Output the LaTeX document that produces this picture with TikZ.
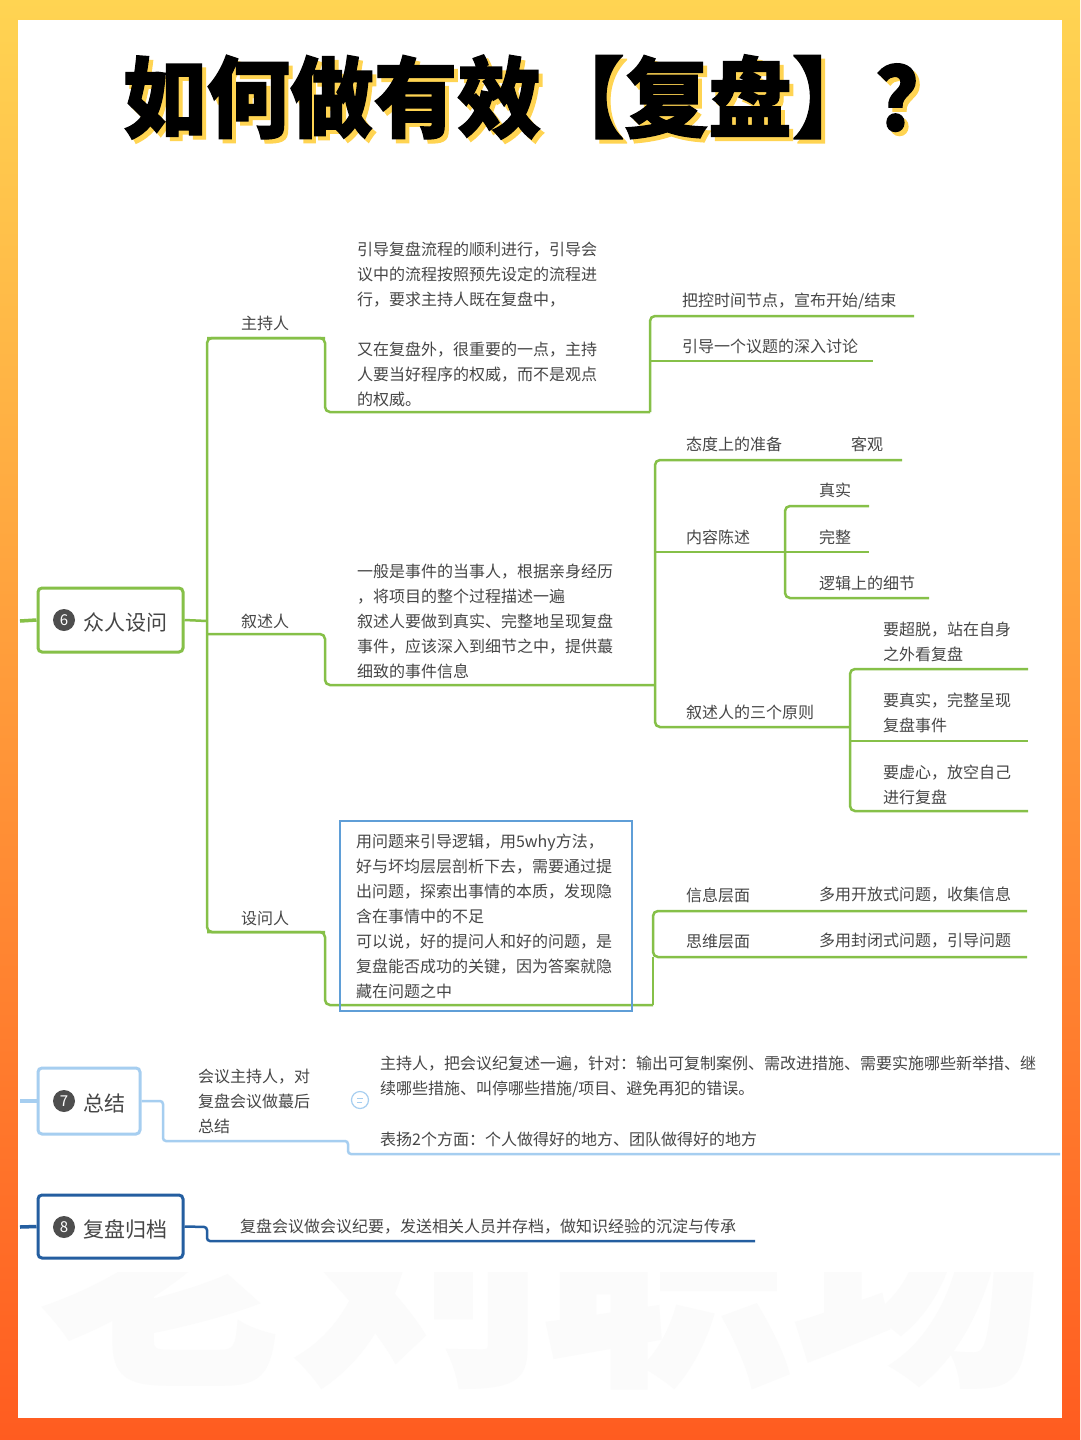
\documentclass[tikz,border=0pt]{standalone}
\usepackage{fontspec}
\usepackage{tikz}
\usetikzlibrary{positioning}
\newfontfamily\cjk{Noto Sans CJK SC}
\newfontfamily\cjkheavy{Noto Sans CJK SC}[FakeBold=1.5]
\definecolor{leaf}{RGB}{134,192,72}
\definecolor{ink}{RGB}{70,70,70}
\definecolor{sky}{RGB}{166,206,240}
\definecolor{sea}{RGB}{36,94,160}
\definecolor{frame}{RGB}{95,158,215}
\definecolor{sunY}{RGB}{255,212,82}
\definecolor{sunO}{RGB}{255,92,32}
\definecolor{dot}{RGB}{78,78,78}

\begin{document}
\begin{tikzpicture}
	[
	x=1pt, y=-1pt,
	txt/.style={anchor=west, inner sep=0pt, align=left, text=ink,
		font=\cjk\fontsize{16}{25}\selectfont},
	sect/.style={draw=#1, line width=3pt, rounded corners=4pt, fill=white,
		minimum height=64pt},
	num/.style={circle, fill=dot, text=white, inner sep=0pt, minimum size=22pt,
		font=\cjk\fontsize{15}{15}\selectfont},
	head/.style={anchor=west, inner sep=0pt, text=ink,
		font=\cjk\fontsize{21}{21}\selectfont},
	gline/.style={draw=leaf, line width=2.5pt, rounded corners=5pt},
	bline/.style={draw=#1, line width=2.5pt, rounded corners=3pt},
	]
		% page
		\fill[top color=sunY, bottom color=sunO] (0,0) rectangle (1080,1440);
		\fill[white] (18,20) rectangle (1062,1418);
		\begin{scope}
			\clip (18,1272) rectangle (1062,1418);
			\node[text=gray!3, font=\cjkheavy\bfseries\fontsize{250}{250}\selectfont]
				(mark) at (542,1268) {老刘职场};
		\end{scope}
		
		% title
		\node[text=sunY, xscale=0.95, font=\cjkheavy\bfseries\fontsize{88}{88}\selectfont]
			(tsh) at (545,101) {如何做有效【复盘】？};
		\node[text=black, xscale=0.95, font=\cjkheavy\bfseries\fontsize{88}{88}\selectfont]
			(ttl) at (541,97) {如何做有效【复盘】？};
		
		% 6 zhong ren she wen
		\node[sect=leaf, minimum width=145pt] (b6) at (110.5,620) {};
		\node[num] (n6) at (64,620) {6};
		\node[head] (h6) at (83,622) {众人设问};
		\coordinate (s6) at (20,621);
		\coordinate (j6) at (207,621);
		
		% host
		\node[txt] (zl) at (241,323) {主持人};
		\node[txt] (zb) at (357,324) {引导复盘流程的顺利进行，引导会\\议中的流程按照预先设定的流程进\\行，要求主持人既在复盘中，\\[25pt]又在复盘外，很重要的一点，主持\\人要当好程序的权威，而不是观点\\的权威。};
		\node[txt] (za) at (682,301) {把控时间节点，宣布开始/结束};
		\node[txt] (zc) at (682,346) {引导一个议题的深入讨论};
		\coordinate (z0) at (207,338);
		\coordinate (z1) at (325,338);
		\coordinate (z2) at (650,412);
		\coordinate (z3) at (650,316);
		\coordinate (z4) at (914,316);
		\coordinate (z5) at (650,361);
		\coordinate (z6) at (873,361);
		
		% narrator
		\node[txt] (xl) at (241,621) {叙述人};
		\node[txt] (xb) at (357,621) {一般是事件的当事人，根据亲身经历\\，将项目的整个过程描述一遍\\叙述人要做到真实、完整地呈现复盘\\事件，应该深入到细节之中，提供蕞\\细致的事件信息};
		\node[txt] (xa) at (686,444) {态度上的准备};
		\node[txt] (xa1) at (851,444) {客观};
		\node[txt] (xc) at (686,537) {内容陈述};
		\node[txt] (xc1) at (819,490) {真实};
		\node[txt] (xc2) at (819,537) {完整};
		\node[txt] (xc3) at (819,583) {逻辑上的细节};
		\node[txt] (xd) at (686,712) {叙述人的三个原则};
		\node[txt] (xd1) at (883,641.5) {要超脱，站在自身\\之外看复盘};
		\node[txt] (xd2) at (883,712.5) {要真实，完整呈现\\复盘事件};
		\node[txt] (xd3) at (883,784.5) {要虚心，放空自己\\进行复盘};
		\coordinate (x0) at (207,634);
		\coordinate (x1) at (325,634);
		\coordinate (x2) at (655,685);
		\coordinate (xa0) at (655,460);
		\coordinate (xa9) at (902,460);
		\coordinate (xc0) at (655,552);
		\coordinate (xc9) at (785,552);
		\coordinate (xc1a) at (785,506);
		\coordinate (xc1b) at (869,506);
		\coordinate (xc2b) at (869,552);
		\coordinate (xc3b) at (929,598);
		\coordinate (xd0) at (655,727);
		\coordinate (xd9) at (850,727);
		\coordinate (xd1a) at (850,669);
		\coordinate (xd1b) at (1028,669);
		\coordinate (xd2a) at (850,741);
		\coordinate (xd2b) at (1028,741);
		\coordinate (xd3b) at (1028,811);
		
		% questioner
		\node[txt] (ql) at (241,918) {设问人};
		\node[txt] (qa) at (686,895) {信息层面};
		\node[txt] (qa1) at (819,895) {多用开放式问题，收集信息};
		\node[txt] (qc) at (686,941) {思维层面};
		\node[txt] (qc1) at (819,941) {多用封闭式问题，引导问题};
		\coordinate (q0) at (207,932);
		\coordinate (q1) at (325,932);
		\coordinate (q2) at (653,1005);
		\coordinate (qa0) at (653,911);
		\coordinate (qa9) at (1027,911);
		\coordinate (qc0) at (653,957);
		\coordinate (qc9) at (1027,957);
		
		% green tree
		\draw[leaf, line width=3.5pt] (s6) -- (b6.west);
		\draw[gline] (b6.east) -- (j6);
		\draw[gline] (z1) -- (z0) -- (q0) -- (q1);
		\draw[gline] (z0) -- (z1) |- (z2);
		\draw[gline] (z4) -- (z3) -- (z2);
		\draw[gline] (z5) -- (z6);
		\draw[gline] (x0) -- (x1) |- (x2);
		\draw[gline] (xa9) -- (xa0) -- (xd0) -- (xd9);
		\draw[gline] (xc0) -- (xc9);
		\draw[gline] (xc1b) -- (xc1a) |- (xc3b);
		\draw[gline] (xc9) -- (xc2b);
		\draw[gline] (xd1b) -- (xd1a) |- (xd3b);
		\draw[gline] (xd2a) -- (xd2b);
		\draw[gline] (q0) -- (q1) |- (q2);
		\draw[gline] (qa9) -- (qa0) |- (qc9);
		\draw[gline] (qc0) -- (q2);
		
		% framed text on top of the tree
		\node[txt, anchor=center, draw=frame, line width=2.5pt, text width=260pt,
			inner xsep=16pt, minimum height=190pt] (qb) at (486,916)
			{用问题来引导逻辑，用5why方法，\\好与坏均层层剖析下去，需要通过提\\出问题，探索出事情的本质，发现隐\\含在事情中的不足\\可以说，好的提问人和好的问题，是\\复盘能否成功的关键，因为答案就隐\\藏在问题之中};
		
		% 7 summary
		\node[sect=sky, minimum width=102pt, minimum height=66pt] (b7) at (89,1101) {};
		\node[num] (n7) at (64,1101) {7};
		\node[head] (h7) at (83,1103) {总结};
		\node[txt] (yl) at (198,1101) {会议主持人，对\\复盘会议做蕞后\\总结};
		\node[txt] (ya) at (380,1076.5) {主持人，把会议纪复述一遍，针对：输出可复制案例、需改进措施、需要实施哪些新举措、继\\续哪些措施、叫停哪些措施/项目、避免再犯的错误。};
		\node[txt] (yb) at (380,1139) {表扬2个方面：个人做得好的地方、团队做得好的地方};
		\node[circle, draw=sky, line width=1.2pt, minimum size=17pt, inner sep=0pt] (ynote) at (360,1100) {};
		\draw[sky, line width=1pt] ([xshift=-3pt,yshift=2pt]ynote.center) -- ([xshift=3pt,yshift=2pt]ynote.center)
			([xshift=-3pt,yshift=-2pt]ynote.center) -- ([xshift=2pt,yshift=-2pt]ynote.center);
		\coordinate (s7) at (20,1101);
		\coordinate (y0) at (163,1101);
		\coordinate (y1) at (348,1141);
		\coordinate (y2) at (1060,1154);
		\draw[sky, line width=3.5pt] (s7) -- (b7.west);
		\draw[bline=sky] (b7.east) -- (y0) |- (y1) |- (y2);
		
		% 8 archive
		\node[sect=sea, minimum width=145pt, minimum height=63pt] (b8) at (110.5,1226.5) {};
		\node[num] (n8) at (64,1227) {8};
		\node[head] (h8) at (83,1229) {复盘归档};
		\node[txt] (wa) at (240,1227) {复盘会议做会议纪要，发送相关人员并存档，做知识经验的沉淀与传承};
		\coordinate (s8) at (20,1227);
		\coordinate (w0) at (207,1227);
		\coordinate (w1) at (755,1241);
		\draw[sea, line width=3.5pt] (s8) -- (b8.west);
		\draw[bline=sea] (b8.east) -- (w0) |- (w1);
		
	\end{tikzpicture}
\end{document}
